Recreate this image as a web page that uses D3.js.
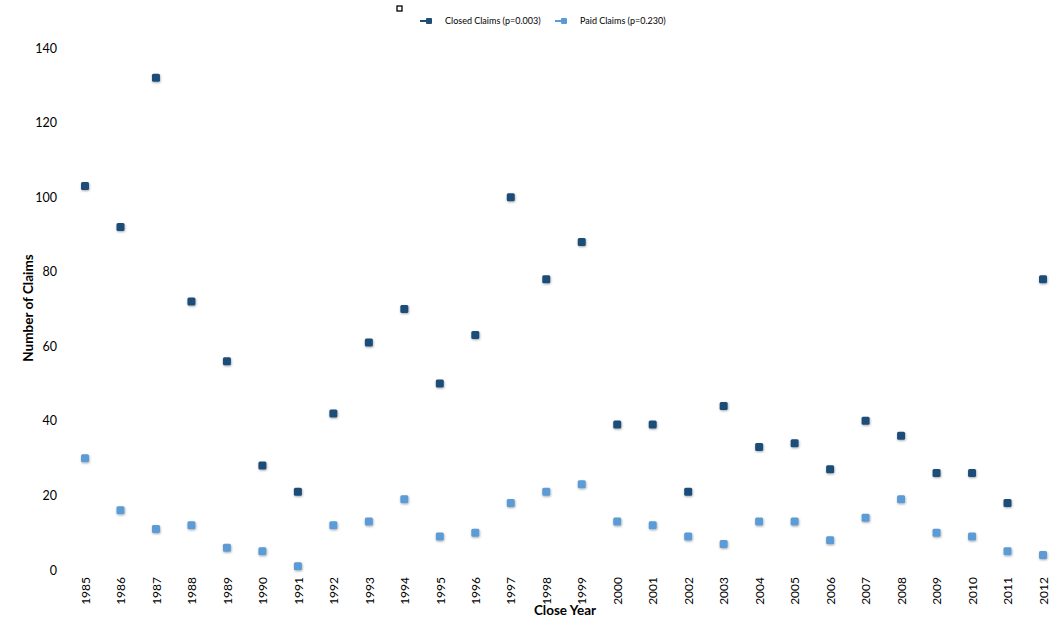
<!DOCTYPE html>
<html lang="en">
  <head>
    <meta charset="UTF-8" />
    <title>Claims by Close Year</title>
    <style>
      body { margin: 0; background: #fff; }
      text { font-family: Lato, "Open Sans", sans-serif; fill: #000; }
    </style>
  </head>
  <body>
    <svg id="svg" width="1050" height="620"></svg>

    <script src="https://cdn.jsdelivr.net/npm/d3@7"></script>
    <script>
      const years = d3.range(1985, 2013).map(String);
      const closedClaims = [103, 92, 132, 72, 56, 28, 21, 42, 61, 70, 50, 63, 100, 78, 88,
        39, 39, 21, 44, 33, 34, 27, 40, 36, 26, 26, 18, 78];
      const paidClaims = [30, 16, 11, 12, 6, 5, 1, 12, 13, 19, 9, 10, 18, 21, 23,
        13, 12, 9, 7, 13, 13, 8, 14, 19, 10, 9, 5, 4];
      const yTicks = [0, 20, 40, 60, 80, 100, 120, 140];
      const seriesNames = ["Closed Claims (p=0.003)", "Paid Claims (p=0.230)"];
      const COLORS = ["#1f4e79", "#5b9bd5"];

      const svg = d3.select("#svg");

      const defs = svg.append("defs");
      const f = defs.append("filter").attr("id", "shadow")
        .attr("x", "-60%").attr("y", "-60%").attr("width", "220%").attr("height", "220%");
      f.append("feDropShadow").attr("dx", 0.5).attr("dy", 1).attr("stdDeviation", 1.2)
        .attr("flood-color", "#000").attr("flood-opacity", 0.35);

      const x = d3.scalePoint().domain(years).range([85, 1043]);
      const y = d3.scaleLinear().domain([0, 140]).range([570, 48]);

      // y axis (labels only)
      const yAxis = svg.append("g")
        .attr("transform", "translate(62,0)")
        .call(d3.axisLeft(y).tickValues(yTicks).tickSize(0).tickPadding(5));
      yAxis.select(".domain").remove();
      yAxis.selectAll("text").attr("font-size", 12.5).style("font-family", "Lato, 'Open Sans', sans-serif");

      // x axis (rotated labels only)
      const xAxis = svg.append("g")
        .attr("transform", "translate(0,575)")
        .call(d3.axisBottom(x).tickSize(0));
      xAxis.select(".domain").remove();
      xAxis.selectAll("text")
        .attr("font-size", 12)
        .style("font-family", "Lato, 'Open Sans', sans-serif")
        .attr("transform", "rotate(-90)")
        .attr("text-anchor", "end")
        .attr("x", -2)
        .attr("y", 0)
        .attr("dy", "0.35em");

      // titles
      svg.append("text")
        .attr("transform", "translate(33,308) rotate(-90)")
        .attr("text-anchor", "middle")
        .attr("font-size", 13.5).attr("font-weight", "bold")
        .text("Number of Claims");
      svg.append("text")
        .attr("x", 565).attr("y", 615)
        .attr("text-anchor", "middle")
        .attr("font-size", 13.5).attr("font-weight", "bold")
        .text("Close Year");

      const S = 8;
      function drawSeries(values, color) {
        svg.append("g")
          .selectAll("rect")
          .data(values)
          .join("rect")
          .attr("x", (d, i) => x(years[i]) - S / 2)
          .attr("y", (d) => y(d) - S / 2)
          .attr("width", S)
          .attr("height", S)
          .attr("rx", 1.5)
          .attr("fill", color)
          .attr("filter", "url(#shadow)");
      }
      drawSeries(paidClaims, COLORS[1]);
      drawSeries(closedClaims, COLORS[0]);

      // legend
      const legendX = [420, 555];
      const legend = svg.append("g");
      seriesNames.forEach((name, i) => {
        const g = legend.append("g").attr("transform", `translate(${legendX[i]},21)`);
        g.append("line").attr("x1", 0).attr("x2", 6).attr("y1", 0).attr("y2", 0)
          .attr("stroke", COLORS[i]).attr("stroke-width", 2);
        g.append("rect").attr("x", 6).attr("y", -3).attr("width", 6).attr("height", 6)
          .attr("rx", 1).attr("fill", COLORS[i]);
        g.append("text").attr("x", 25).attr("y", 0).attr("dy", "0.35em")
          .attr("font-size", 9).text(name);
      });

      // small stray mark seen in the original
      svg.append("rect").attr("x", 397).attr("y", 6).attr("width", 5).attr("height", 5)
        .attr("fill", "none").attr("stroke", "#000").attr("stroke-width", 1.3);
    </script>
  </body>
</html>
